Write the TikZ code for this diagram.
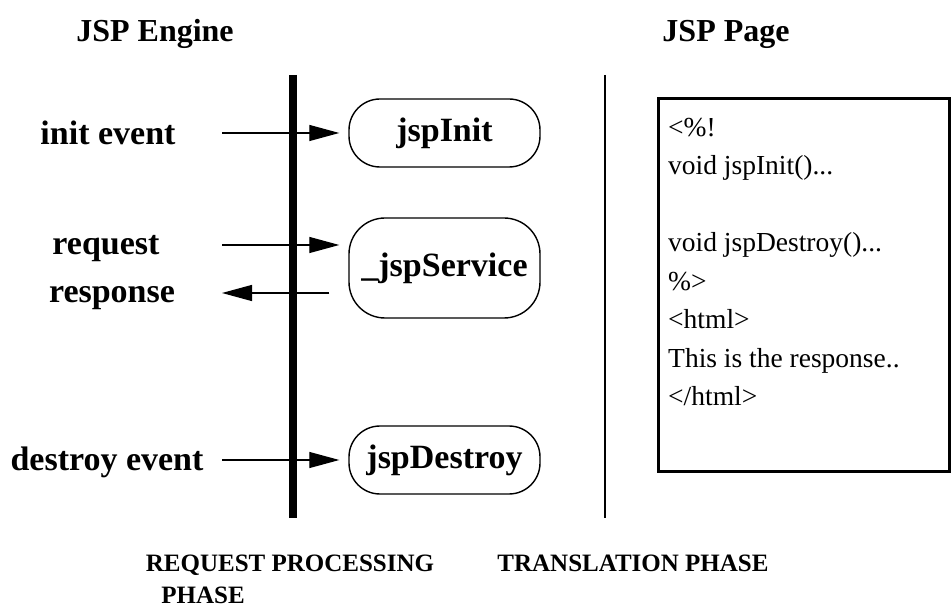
\documentclass[tikz,border=0pt]{standalone}
\usepackage{fontspec}
\setmainfont{Liberation Serif}
\usetikzlibrary{arrows.meta,positioning,calc}
\tikzset{
  evarr/.style={-{Triangle[length=30pt,width=16pt]}, line width=1.2pt},
  meth/.style={draw, line width=1.4pt, rounded corners=31pt, minimum width=191pt,
               minimum height=68pt, inner sep=0pt, font=\fontsize{34}{40}\selectfont\bfseries},
  evlab/.style={font=\fontsize{34}{40}\selectfont\bfseries, anchor=base},
  hdr/.style={font=\fontsize{32}{38}\selectfont\bfseries, anchor=base},
  phs/.style={font=\fontsize{25}{30}\selectfont\bfseries, anchor=base},
  codebox/.style={draw, line width=3pt, minimum width=291pt, minimum height=373pt,
                  anchor=north west, inner sep=0pt},
  codetxt/.style={font=\fontsize{27.5}{38.5}\selectfont, align=left, anchor=north west, inner sep=0pt},
}

\begin{document}
\begin{tikzpicture}[x=1pt, y=-1pt]
  \useasboundingbox (0,0) rectangle (951,612);
  \node[hdr] (eng) at (155,42) {JSP Engine};
  \node[hdr] (pg) at (726,42) {JSP Page};

  \coordinate (bustop) at (293,75);
  \coordinate (busbot) at (293,518);
  \coordinate (divtop) at (605,75);
  \coordinate (divbot) at (605,518);
  \draw[line width=8pt] (bustop) -- (busbot);
  \draw[line width=1.5pt] (divtop) -- (divbot);

  \node[meth] (init) at (444.5,133) {jspInit};
  \node[meth, minimum height=100pt, rounded corners=36pt] (svc) at (444.5,268) {\_jspService};
  \node[meth] (dest) at (444.5,460) {jspDestroy};

  \node[evlab] (initlab) at (108,145) {init event};
  \node[evlab] (reqlab) at (106,255) {request};
  \node[evlab] (rsplab) at (112,303) {response};
  \node[evlab] (destlab) at (107,470) {destroy event};

  \coordinate (initsrc) at (222,133);
  \coordinate (reqsrc) at (222,245);
  \coordinate (rspdst) at (222,293);
  \coordinate (destsrc) at (222,460);
  \draw[evarr] (initsrc) -- ($(init.west)+(-9,0)$);
  \draw[evarr] (reqsrc) -- ($(svc.west |- reqsrc)+(-9,0)$);
  \draw[evarr] ($(svc.west |- rspdst)+(-19,0)$) -- (rspdst);
  \draw[evarr] (destsrc) -- ($(dest.west)+(-9,0)$);

  \node[codebox] (page) at (657,97) {};
  \node[codetxt] (code) at ($(page.north west)+(11,21)$) {<\%!\\
    void jspInit()...\\[38.5pt]
    void jspDestroy()...\\
    \%>\\
    <html>\\
    This is the response..\\
    </html>};

  \node[phs] (reqph) at (290,571) {REQUEST PROCESSING};
  \node[phs] (reqph2) at (203,603) {PHASE};
  \node[phs] (trph) at (633,571) {TRANSLATION PHASE};
\end{tikzpicture}
\end{document}
